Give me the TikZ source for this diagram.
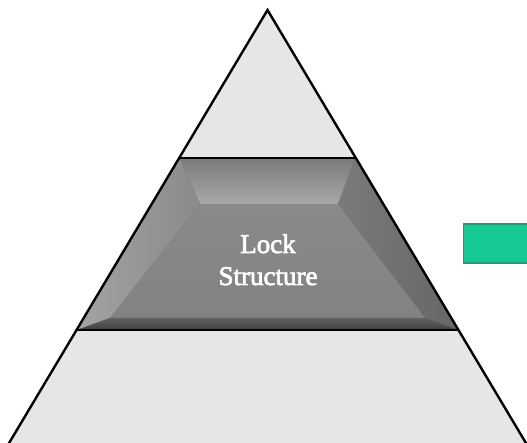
\documentclass[tikz,border=0pt]{standalone}
\usepackage{fontspec}
\setmainfont{Liberation Serif}
\newfontfamily\lblfont{Liberation Serif}[FakeBold=2.5]
\begin{document}
\begin{tikzpicture}[x=1pt,y=-1pt,
  outline/.style={draw=black,line width=2.4pt,line join=miter},
  lbl/.style={text=white,font=\lblfont\fontsize{27}{32}\selectfont,anchor=base,inner sep=0pt}]
\definecolor{trifill}{HTML}{E6E6E6}
\definecolor{greenfill}{HTML}{14C994}
\definecolor{greenedge}{HTML}{1F9C72}
\useasboundingbox (0,0) rectangle (527,443);
\clip (0,0) rectangle (527,443);
% triangle body
\fill[trifill] (267.5,10) -- (-10,475) -- (545,475) -- cycle;
% trapezoid with bevel
\fill[gray!55!black!95] (179.5,158) -- (355.5,158) -- (458,330) -- (77,330) -- cycle;
\shade[top color=black!52,bottom color=black!34] (179.5,158) -- (355.5,158) -- (338,204) -- (200,204) -- cycle;
\shade[left color=black!36,right color=black!46] (179.5,158) -- (200,204) -- (110,318) -- (77,330) -- cycle;
\shade[left color=black!52,right color=black!60] (355.5,158) -- (458,330) -- (425,318) -- (338,204) -- cycle;
\shade[top color=black!46,bottom color=black!49] (200,204) -- (338,204) -- (425,318) -- (110,318) -- cycle;
\shade[top color=black!62,bottom color=black!75] (110,318) -- (425,318) -- (458,330) -- (77,330) -- cycle;
% outlines
\draw[outline] (179.5,158) -- (355.5,158);
\draw[outline] (77,330) -- (458,330);
\draw[outline] (-10,475) -- (267.5,10) -- (545,475);
% text
\node[lbl] (lock) at (268,253) {Lock};
\node[lbl] (structure) at (268,285) {Structure};
% green box
\node[draw=greenedge,fill=greenfill,line width=1.5pt,minimum width=70pt,minimum height=39pt,anchor=north west,inner sep=0pt] (greenbox) at (462.5,223.5) {};
\end{tikzpicture}
\end{document}
